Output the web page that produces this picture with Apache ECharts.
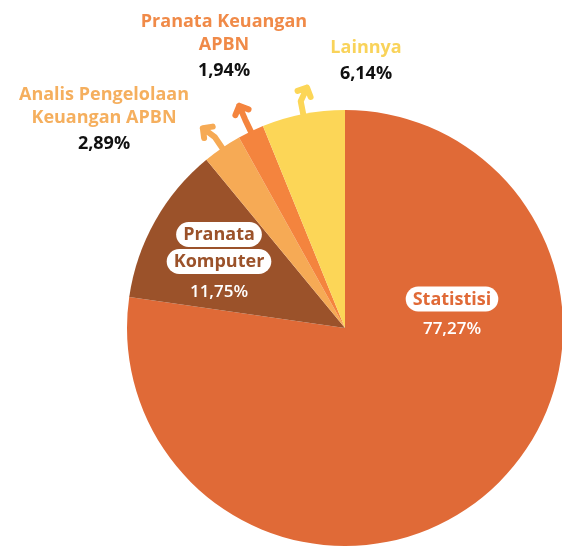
<!DOCTYPE html>
<html>
<head>
    <meta charset="utf-8">
    <title>jabatan fungsional</title>
    <style>
        html, body { margin: 0; padding: 0; background: #fff; }
    </style>
</head>
<body>
<div id="main" style="width: 562px;height:547px;"></div>

<script src="https://cdn.jsdelivr.net/npm/echarts@6/dist/echarts.min.js"></script>
<script>
    // data
    var names = ['Statistisi', 'Pranata Komputer', 'Analis Pengelolaan Keuangan APBN', 'Pranata Keuangan APBN', 'Lainnya'];
    var labelLines = [['Statistisi'], ['Pranata', 'Komputer'], ['Analis Pengelolaan', 'Keuangan APBN'], ['Pranata Keuangan', 'APBN'], ['Lainnya']];
    var values = [77.27, 11.75, 2.89, 1.94, 6.14];

    // styles
    var colors = ['#E06A37', '#9B522A', '#F6AA55', '#F4843E', '#FCD657'];
    var textColors = ['#E06A37', '#9B522A', '#F5AF5E', '#F08A48', '#F9D35A'];
    var inside = [true, true, false, false, false];
    var labelPos = [[452, 316], [219, 265], [104, 121], [224, 48], [366, 62]];
    var arrowTurn = [null, null, [-0.8, -0.6], [-0.4, -0.92], [0.42, -0.91]];

    var pct = function (v) {
        return v.toFixed(2).replace('.', ',') + '%';
    };

    var font = '"Open Sans", sans-serif';

    var data = [];
    for (var i = 0; i < values.length; i++) {
        var lines = labelLines[i].map(function (s) { return '{n|' + s + '}'; });
        var txt = lines.join('\n') + '\n{p|' + pct(values[i]) + '}';
        var rich;
        if (inside[i]) {
            rich = {
                n: {
                    color: textColors[i], backgroundColor: '#fff', borderRadius: 13,
                    padding: [4, 7, 3, 7], fontSize: 18, fontWeight: 700, fontFamily: font, lineHeight: 27
                },
                p: { color: '#fff', fontSize: 17, fontWeight: 600, fontFamily: font, lineHeight: 34 }
            };
        } else {
            rich = {
                n: { color: textColors[i], fontSize: 18, fontWeight: 700, fontFamily: font, lineHeight: 23 },
                p: { color: '#111', fontSize: 18, fontWeight: 700, fontFamily: font, lineHeight: 29 }
            };
        }
        data.push({
            name: names[i],
            value: values[i],
            itemStyle: { color: colors[i] },
            label: { show: true, position: inside[i] ? 'inside' : 'outside', formatter: txt, rich: rich },
            labelLine: {
                show: !inside[i], length: 20, length2: 0,
                lineStyle: { color: colors[i], width: 6, cap: 'round', join: 'round' }
            }
        });
    }

    var myChart = echarts.init(document.getElementById('main'));

    var option = {
        animation: false,
        series: [{
            type: 'pie',
            center: [345, 328],
            radius: 218,
            startAngle: 90,
            clockwise: true,
            avoidLabelOverlap: false,
            label: { align: 'center' },
            labelLayout: function (params) {
                var k = params.dataIndex;
                var res = {
                    x: labelPos[k][0],
                    y: labelPos[k][1],
                    align: 'center',
                    verticalAlign: 'middle'
                };
                var pts = params.labelLinePoints;
                if (arrowTurn[k] && pts) {
                    var p0 = pts[0], p1 = pts[1];
                    var dx = p1[0] - p0[0], dy = p1[1] - p0[1];
                    var d = Math.sqrt(dx * dx + dy * dy) || 1;
                    dx /= d; dy /= d;
                    var t = arrowTurn[k];
                    var base = [p0[0] - dx * 3, p0[1] - dy * 3];
                    var mid = [base[0] + dx * 16, base[1] + dy * 16];
                    var tip = [mid[0] + t[0] * 15, mid[1] + t[1] * 15];
                    var ang = Math.atan2(t[1], t[0]);
                    var w1 = [tip[0] - Math.cos(ang - 0.8) * 10, tip[1] - Math.sin(ang - 0.8) * 10];
                    var w2 = [tip[0] - Math.cos(ang + 0.8) * 10, tip[1] - Math.sin(ang + 0.8) * 10];
                    res.labelLinePoints = [base, mid, tip, w1, tip, w2];
                }
                return res;
            },
            data: data
        }]
    };

    myChart.setOption(option);
</script>
</body>
</html>
